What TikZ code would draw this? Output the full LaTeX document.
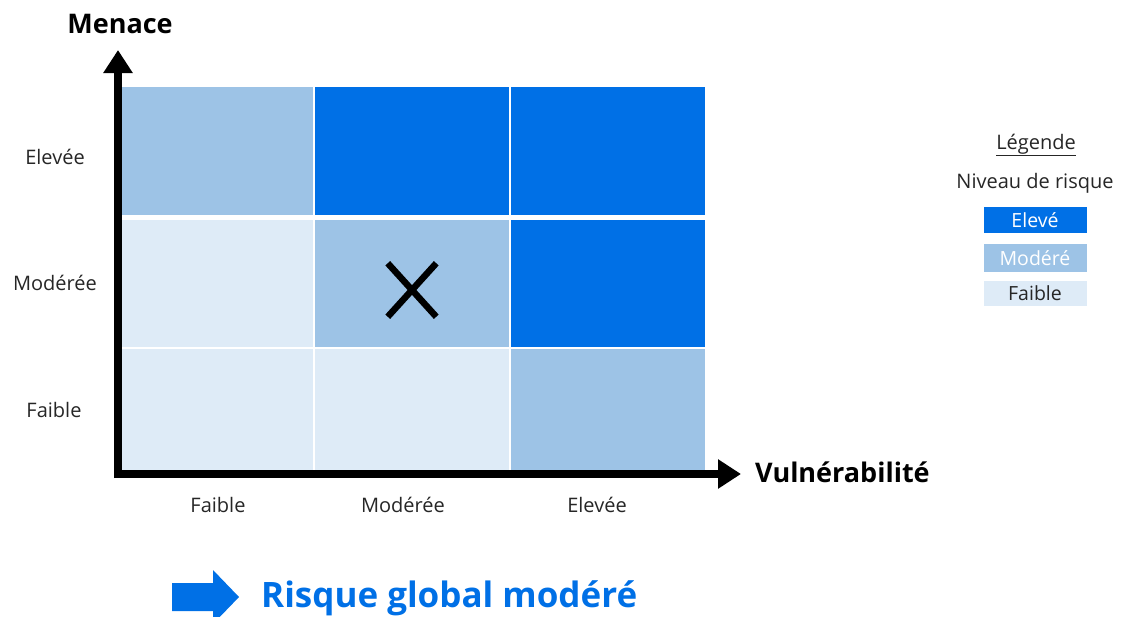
\documentclass[tikz,border=0pt]{standalone}
\usepackage{fontspec}
\setmainfont{Open Sans}
\usetikzlibrary{arrows.meta,shapes.misc}
\definecolor{rhigh}{RGB}{0,112,230}
\definecolor{rmid}{RGB}{157,195,230}
\definecolor{rlow}{RGB}{222,235,247}
\tikzset{
  cell/.style={anchor=north west, inner sep=0, outer sep=0, draw=none},
  lbl/.style={font=\fontsize{20}{24}\selectfont, text=black!85, inner sep=0},
  axtitle/.style={font=\fontsize{27}{32}\selectfont\bfseries, inner sep=0},
  legbox/.style={minimum width=103, minimum height=26, inner sep=0, font=\fontsize{19.5}{22}\selectfont},
  axis/.style={line width=8, -{Triangle[length=23, width=28]}}
}
\begin{document}
\begin{tikzpicture}[x=1pt,y=-1pt]
\useasboundingbox (0,0) rectangle (1123,616);
\clip (0,0) rectangle (1123,616);
% cells
\node[cell, fill=rmid,  minimum width=191, minimum height=128] (c11) at (122,87) {};
\node[cell, fill=rhigh, minimum width=194, minimum height=128] (c12) at (315,87) {};
\node[cell, fill=rhigh, minimum width=194, minimum height=128] (c13) at (511,87) {};
\node[cell, fill=rlow,  minimum width=191, minimum height=127] (c21) at (122,220) {};
\node[cell, fill=rmid,  minimum width=194, minimum height=127] (c22) at (315,220) {};
\node[cell, fill=rhigh, minimum width=194, minimum height=127] (c23) at (511,220) {};
\node[cell, fill=rlow,  minimum width=191, minimum height=121] (c31) at (122,349) {};
\node[cell, fill=rlow,  minimum width=194, minimum height=121] (c32) at (315,349) {};
\node[cell, fill=rmid,  minimum width=194, minimum height=121] (c33) at (511,349) {};
% X mark
\node[cross out, draw=black, line width=6.5, minimum width=42, minimum height=47, inner sep=0] (xmark) at (412,290) {};
% axes
\coordinate (oy) at (118,478);
\coordinate (ox) at (114,474);
\coordinate (ytip) at (118,50);
\coordinate (xtip) at (741,474);
\draw[axis] (oy) -- (ytip);
\draw[axis] (ox) -- (xtip);
\node[axtitle, anchor=center] (menace) at (120,24) {Menace};
\node[axtitle, anchor=west] (vuln) at (755,472) {Vulnérabilité};
% row labels
\node[lbl] (r1) at (55,157) {Elevée};
\node[lbl] (r2) at (55,283) {Modérée};
\node[lbl] (r3) at (54,410) {Faible};
% column labels
\node[lbl] (k1) at (218,505) {Faible};
\node[lbl] (k2) at (403,505) {Modérée};
\node[lbl] (k3) at (597,505) {Elevée};
% legend
\node[lbl] (leg) at (1036,145) {\underline{Légende}};
\node[lbl] (niv) at (1035,183) {Niveau de risque};
\node[legbox, fill=rhigh, text=white] (l1) at (1035,220) {Elevé};
\node[legbox, fill=rmid, text=white, minimum height=28] (l2) at (1035,258) {Modéré};
\node[legbox, fill=rlow, text=black!85, minimum height=25] (l3) at (1035,293.5) {Faible};
% bottom conclusion
\fill[rhigh] (172,583) -- (213,583) -- (213,570) -- (239,597) -- (213,624) -- (213,611) -- (172,611) -- cycle;
\node[font=\fontsize{35}{40}\selectfont\bfseries, text=rhigh, anchor=west, inner sep=0] (risk) at (261,598) {Risque global modéré};
\end{tikzpicture}
\end{document}
